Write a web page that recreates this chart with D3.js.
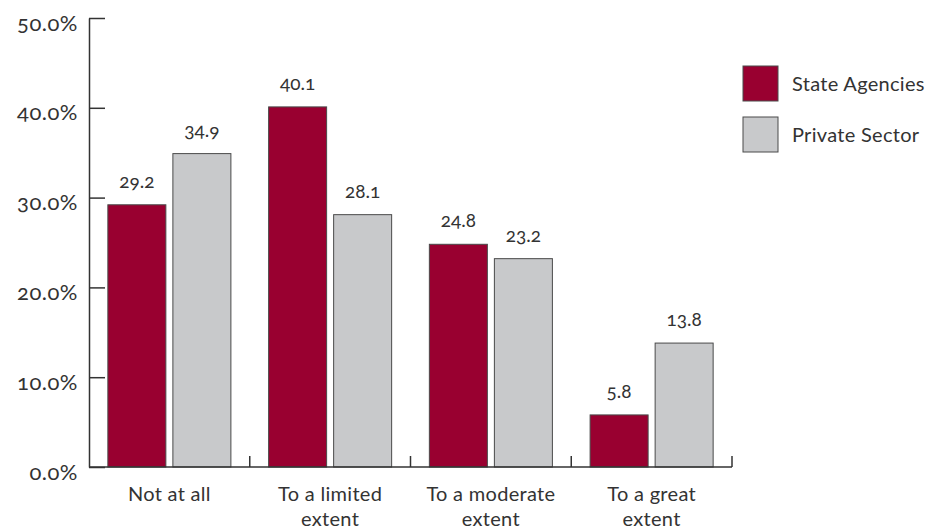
<!DOCTYPE html>
<html>
<head>
<meta charset="utf-8">
<script src="https://cdn.jsdelivr.net/npm/d3@7"></script>
<style>
  html, body { margin: 0; padding: 0; background: #fff; }
  svg text { font-family: Lato, "Open Sans", sans-serif; fill: #333; }
  svg text.num { font-variant-numeric: oldstyle-nums; }
</style>
</head>
<body>
<svg id="chart" width="930" height="529"></svg>
<script>
// Responses by category, percent of respondents
const categories = ["Not at all", "To a limited extent", "To a moderate extent", "To a great extent"];
const categoryLines = [["Not at all"], ["To a limited", "extent"], ["To a moderate", "extent"], ["To a great", "extent"]];
const seriesNames = ["State Agencies", "Private Sector"];
const stateAgencies = [29.2, 40.1, 24.8, 5.8];
const privateSector = [34.9, 28.1, 23.2, 13.8];
const yTicks = [0, 10, 20, 30, 40, 50];

const colors = { "State Agencies": "#990030", "Private Sector": "#c8c9cb" };
const seriesValues = { "State Agencies": stateAgencies, "Private Sector": privateSector };

const svg = d3.select("#chart");
const plotLeft = 89, plotRight = 732, plotTop = 18, plotBottom = 467;

const y = d3.scaleLinear().domain([0, 50]).range([plotBottom, plotTop]);
const x0 = d3.scaleBand().domain(categories).range([plotLeft, plotRight]).paddingInner(0).paddingOuter(0);
const x1 = d3.scaleBand().domain(seriesNames).range([0, x0.bandwidth()])
  .paddingInner(0.108).paddingOuter(0.29);

// Bars
const groups = svg.append("g").selectAll("g")
  .data(categories)
  .join("g")
  .attr("transform", d => `translate(${x0(d)},0)`);

groups.selectAll("rect")
  .data((c, i) => seriesNames.map(s => ({ s, v: seriesValues[s][i] })))
  .join("rect")
  .attr("x", d => x1(d.s))
  .attr("y", d => y(d.v))
  .attr("width", x1.bandwidth())
  .attr("height", d => plotBottom - y(d.v))
  .attr("fill", d => colors[d.s])
  .attr("stroke", "#4a4a4a")
  .attr("stroke-width", 1);

// Value labels
groups.selectAll("text.val")
  .data((c, i) => seriesNames.map(s => ({ s, v: seriesValues[s][i] })))
  .join("text")
  .attr("class", "val num")
  .attr("x", d => x1(d.s) + x1.bandwidth() / 2)
  .attr("y", d => y(d.v) - 17)
  .attr("text-anchor", "middle")
  .attr("font-size", 19)
  .text(d => d.v.toFixed(1));

// Y axis
const yAxis = d3.axisLeft(y)
  .tickValues(yTicks)
  .tickFormat(d => d.toFixed(1) + "%")
  .tickSizeInner(-16)
  .tickSizeOuter(0)
  .tickPadding(11);

const yg = svg.append("g").attr("transform", `translate(${plotLeft},0)`).call(yAxis);
yg.select(".domain").attr("stroke", "#333").attr("stroke-width", 1.5);
yg.selectAll(".tick line").attr("stroke", "#333").attr("stroke-width", 1.5);
yg.selectAll(".tick text")
  .attr("class", "num")
  .attr("font-size", 22)
  .attr("letter-spacing", 0.5)
  .attr("dy", null)
  .attr("y", 12)
  .attr("fill", "#333");

// X axis baseline with upward ticks at category boundaries
const xg = svg.append("g");
xg.append("line")
  .attr("x1", plotLeft).attr("x2", plotRight)
  .attr("y1", plotBottom).attr("y2", plotBottom)
  .attr("stroke", "#333").attr("stroke-width", 1.5);
xg.selectAll("line.tick")
  .data(categories)
  .join("line")
  .attr("class", "tick")
  .attr("x1", d => x0(d) + x0.bandwidth())
  .attr("x2", d => x0(d) + x0.bandwidth())
  .attr("y1", plotBottom)
  .attr("y2", plotBottom - 11)
  .attr("stroke", "#333").attr("stroke-width", 1.5);

// Category labels
const catText = xg.selectAll("text.cat")
  .data(categories)
  .join("text")
  .attr("class", "cat")
  .attr("text-anchor", "middle")
  .attr("font-size", 20)
  .attr("letter-spacing", 0.3)
  .attr("x", d => x0(d) + x0.bandwidth() / 2)
  .attr("y", 501);
catText.selectAll("tspan")
  .data((d, i) => categoryLines[i])
  .join("tspan")
  .attr("x", function () { return d3.select(this.parentNode).attr("x"); })
  .attr("dy", (d, i) => i === 0 ? 0 : 25)
  .text(d => d);

// Legend
const legend = svg.append("g").attr("transform", "translate(743,66)");
const items = legend.selectAll("g")
  .data(seriesNames)
  .join("g")
  .attr("transform", (d, i) => `translate(0,${i * 51})`);
items.append("rect")
  .attr("width", 35).attr("height", 35)
  .attr("fill", d => colors[d])
  .attr("stroke", "#4a4a4a").attr("stroke-width", 1);
items.append("text")
  .attr("x", 49).attr("y", 17.5)
  .attr("dy", "0.35em")
  .attr("font-size", 20)
  .attr("letter-spacing", 0.3)
  .text(d => d);
</script>
</body>
</html>
